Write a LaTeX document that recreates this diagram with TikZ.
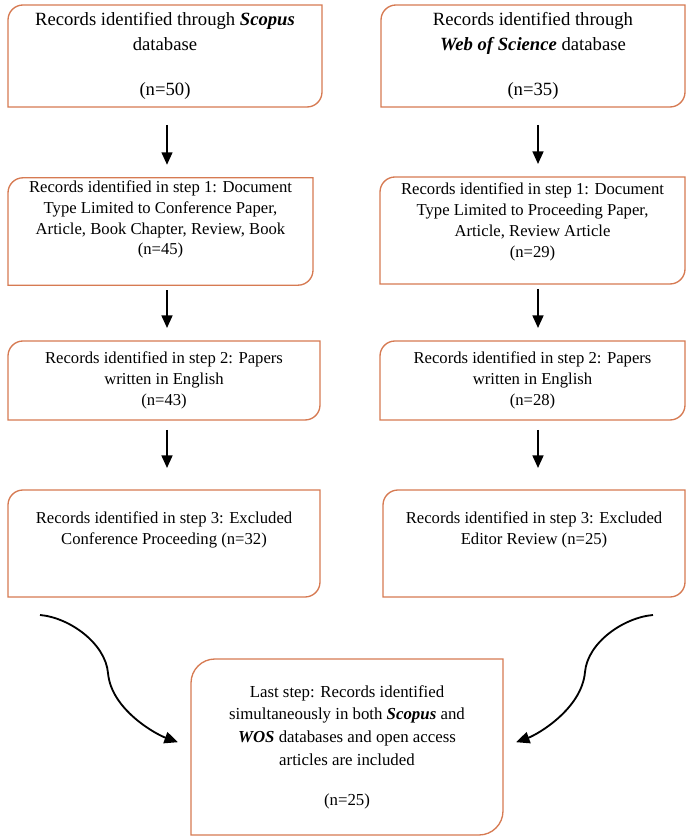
\documentclass[tikz,border=0pt]{standalone}
\usepackage{fontspec}
\setmainfont{Liberation Serif}
\usetikzlibrary{arrows.meta,calc}
\definecolor{recorange}{RGB}{214,122,82}
\tikzset{
    recbox/.style={align=center,outer sep=0pt,inner sep=2pt,font=\fontsize{10}{12.6}\selectfont},
    topbox/.style={recbox,font=\fontsize{11.2}{15}\selectfont},
    lastbox/.style={recbox,font=\fontsize{10.1}{13.6}\selectfont},
    recline/.style={draw=recorange,line width=0.8pt},
    flow/.style={-{Triangle[width=6.5pt,length=7.5pt]},line width=1.1pt},
    merge/.style={-{Triangle[width=7pt,length=8pt]},line width=1.1pt}
}
% box with rounded top left and bottom right corners
\newcommand{\recshape}[2][9pt]{%
    \draw[recline] (#2.south west) -- ([yshift=-#1]#2.north west)
        arc[start angle=180,end angle=90,radius=#1] -- (#2.north east)
        -- ([yshift=#1]#2.south east)
        arc[start angle=0,end angle=-90,radius=#1] -- cycle;}
\begin{document}
\begin{tikzpicture}[x=0.6pt,y=0.6pt]
    \useasboundingbox (0,0) rectangle (686,836);

    % Scopus column
    \node[topbox,minimum width=188.4pt,minimum height=61.2pt] (s0) at (165,780)
        {Records identified through \textbf{\textit{Scopus}}\\database\\[12pt](n=50)};
    \node[recbox,minimum width=183pt,minimum height=64.2pt] (s1) at (160.5,604.5)
        {Records identified in step 1: Document\\Type Limited to Conference Paper,\\Article, Book Chapter, Review, Book\\[-1pt](n=45)\\[4pt]\mbox{}};
    \node[recbox,minimum width=187.2pt,minimum height=47.4pt] (s2) at (164,455.5)
        {Records identified in step 2: Papers\\written in English\\(n=43)};
    \node[recbox,minimum width=187.2pt,minimum height=64.2pt] (s3) at (164,292.5)
        {Records identified in step 3: Excluded\\Conference Proceeding (n=32)\\[6pt]\mbox{}};

    % Web of Science column
    \node[topbox,minimum width=182.4pt,minimum height=61.2pt] (w0) at (533,780)
        {Records identified through\\\textbf{\textit{Web of Science}} database\\[12pt](n=35)};
    \node[recbox,minimum width=183pt,minimum height=64.2pt] (w1) at (532.5,605.5)
        {Records identified in step 1: Document\\Type Limited to Proceeding Paper,\\Article, Review Article\\(n=29)\\[0pt]\mbox{}};
    \node[recbox,minimum width=183pt,minimum height=47.4pt] (w2) at (532.5,455.5)
        {Records identified in step 2: Papers\\written in English\\(n=28)};
    \node[recbox,minimum width=181.2pt,minimum height=64.2pt] (w3) at (534,292.5)
        {Records identified in step 3: Excluded\\Editor Review (n=25)\\[6pt]\mbox{}};

    % last step
    \node[lastbox,minimum width=187.2pt,minimum height=105.6pt] (last) at (347,89)
        {Last step: Records identified\\simultaneously in both \textbf{\textit{Scopus}} and\\\textbf{\textit{WOS}} databases and open access\\articles are included\\[10.5pt](n=25)};

    \foreach \b in {s0,s1,s2,s3,w0,w1,w2,w3} {\recshape{\b}}
    \recshape[14.4pt]{last}

    % arrows down the columns
    \coordinate (lcol) at (167,0);
    \coordinate (rcol) at (538,0);
    \draw[flow,shorten <=10.8pt,shorten >=7.8pt] (s0.south -| lcol) -- (s1.north -| lcol);
    \draw[flow,shorten <=3pt,shorten >=7.8pt] (s1.south -| lcol) -- (s2.north -| lcol);
    \draw[flow,shorten <=6pt,shorten >=13.2pt] (s2.south -| lcol) -- (s3.north -| lcol);
    \draw[flow,shorten <=10.8pt,shorten >=7.8pt] (w0.south -| rcol) -- (w1.north -| rcol);
    \draw[flow,shorten <=3pt,shorten >=7.8pt] (w1.south -| rcol) -- (w2.north -| rcol);
    \draw[flow,shorten <=6pt,shorten >=13.2pt] (w2.south -| rcol) -- (w3.north -| rcol);

    % curved arrows into the last step
    \coordinate (lfrom) at (40,221);
    \coordinate (lbend) at (108,163);
    \coordinate (rfrom) at (653,221);
    \coordinate (rbend) at (585,164);
    \draw[merge,shorten >=8.4pt] (lfrom) to[out=-5,in=95,looseness=0.85] (lbend)
        to[out=-85,in=160,looseness=0.85] (last.west);
    \draw[merge,shorten >=8.4pt] (rfrom) to[out=185,in=85,looseness=0.85] (rbend)
        to[out=-95,in=20,looseness=0.85] (last.east);
\end{tikzpicture}
\end{document}
